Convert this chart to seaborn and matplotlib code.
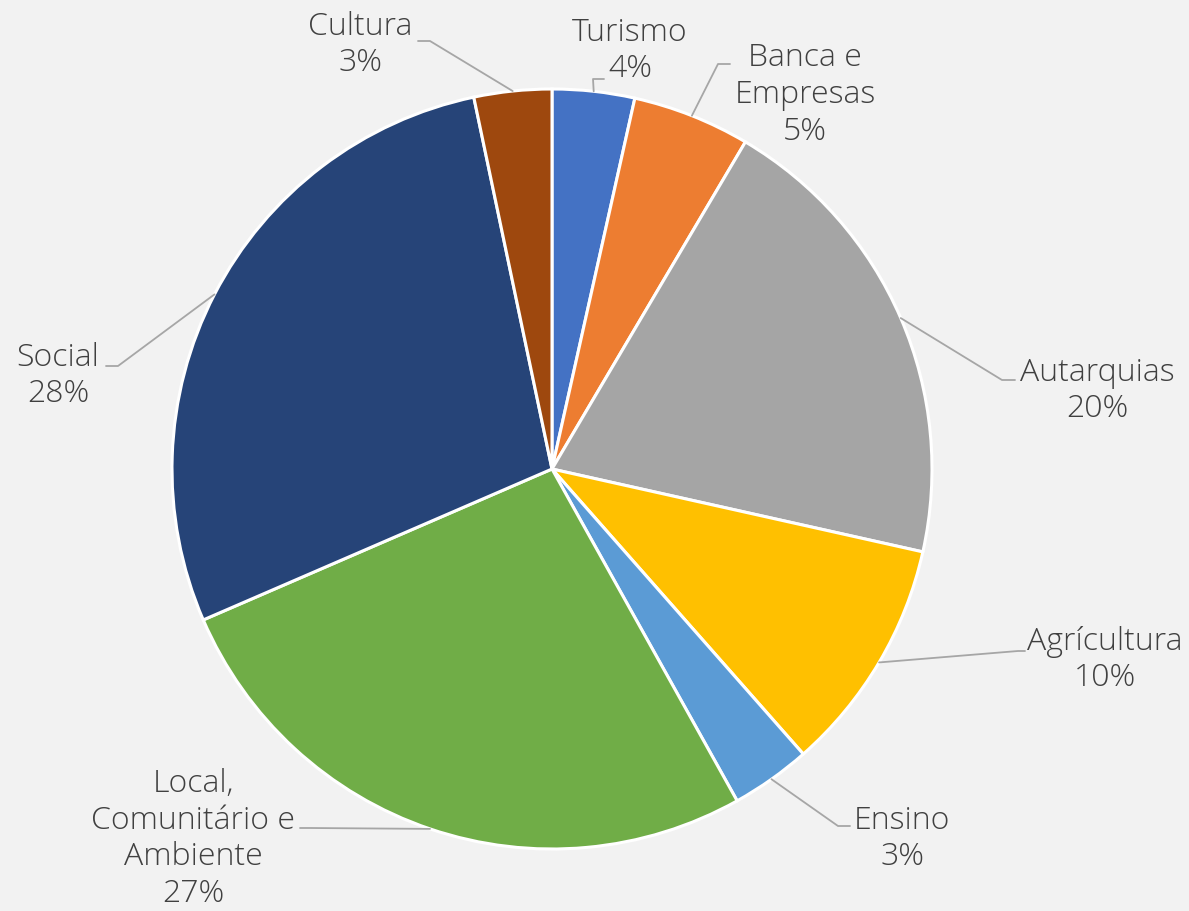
import matplotlib.pyplot as plt
import numpy as np
import seaborn as sns

# Data
categories = ["Turismo", "Banca e\nEmpresas", "Autarquias", "Agrícultura", "Ensino",
              "Local,\nComunitário e\nAmbiente", "Social", "Cultura"]
shares = [3.5, 5.0, 20.0, 10.0, 3.4, 26.6, 28.2, 3.3]
colors = ["#4472C4", "#ED7D31", "#A5A5A5", "#FFC000", "#5B9BD5",
          "#70AD47", "#264478", "#9E480E"]

# Layout (pixels): text centre, leader elbow, leader end x
text_xy = [(630, 51), (805, 95), (1097, 391), (1105, 660), (902, 839),
           (193, 839), (58, 376), (360, 45)]
elbow_xy = [(593, 80), (718, 65), (1002, 381), (1018, 652), (838, 827),
            (310, 829), (118, 367), (430, 42)]
end_x = [604, 730, 1015, 1025, 850, 300, 106, 418]

BG = "#F2F2F2"
TXT = "#404040"
LINE = "#A6A6A6"
CENTER = (552, 470)
RADIUS = 380

sns.set_theme(style="white")
plt.rcParams["font.family"] = ["Open Sans", "DejaVu Sans"]

fig = plt.figure(figsize=(11.89, 9.12), dpi=100, facecolor=BG)
ax = fig.add_axes([0, 0, 1, 1])
ax.set_facecolor(BG)

wedges, _ = ax.pie(shares, colors=colors, startangle=-90, counterclock=True,
                   center=CENTER, radius=RADIUS, normalize=True,
                   wedgeprops=dict(edgecolor="white", linewidth=2.2))
ax.set_xlim(0, 1189)
ax.set_ylim(912, 0)
ax.set_aspect("equal")
ax.axis("off")

for w, cat, val, (tx, ty), (ex, ey), hx in zip(wedges, categories, shares,
                                                text_xy, elbow_xy, end_x):
    mid = np.deg2rad((w.theta1 + w.theta2) / 2)
    x0 = CENTER[0] + RADIUS * np.cos(mid)
    y0 = CENTER[1] + RADIUS * np.sin(mid)
    ax.plot([x0, ex, hx], [y0, ey, ey], color=LINE, lw=1.3, zorder=3)
    pct = int(val / sum(shares) * 100 + 0.5)
    ax.text(tx, ty, f"{cat}\n{pct}%", ha="center", va="center",
            multialignment="center", fontsize=23, fontweight="light",
            color=TXT, linespacing=1.2)

fig.savefig("out.png", dpi=100, facecolor=BG)
